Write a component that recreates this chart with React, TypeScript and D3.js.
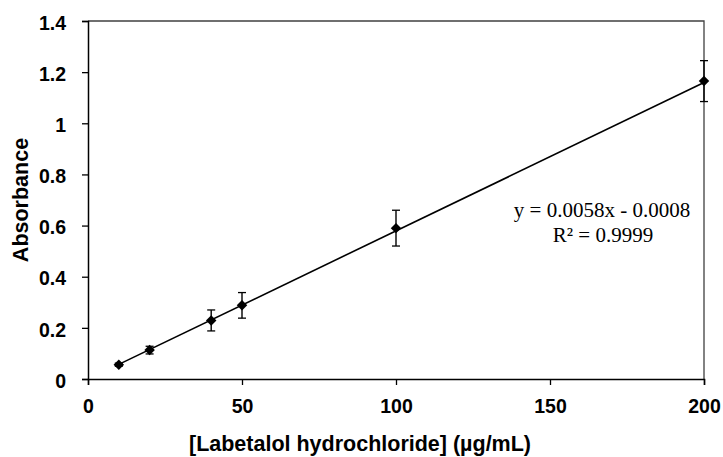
import * as d3 from "d3";
import React, { useRef, useEffect } from "react";

const concentrations = [10, 20, 40, 50, 100, 200];
const absorbance = [0.056, 0.113, 0.229, 0.288, 0.59, 1.165];
const errors = [0.006, 0.015, 0.041, 0.05, 0.07, 0.08];
const xTicks = [0, 50, 100, 150, 200];
const yTicks = [0, 0.2, 0.4, 0.6, 0.8, 1, 1.2, 1.4];
const slope = 0.0058;
const intercept = -0.0008;

const App = () => {
  const ref = useRef<SVGSVGElement>(null);

  useEffect(() => {
    if (!ref.current) return;
    const svg = d3.select(ref.current);
    svg.selectAll("*").remove();

    const margin = { top: 21, right: 19, bottom: 78, left: 88 };
    const W = 723, H = 457;
    const width = W - margin.left - margin.right;
    const height = H - margin.top - margin.bottom;
    const sans = "Arial, 'Liberation Sans', sans-serif";

    const g = svg.append("g").attr("transform", `translate(${margin.left},${margin.top})`);

    const x = d3.scaleLinear().domain([0, 200]).range([0, width]);
    const y = d3.scaleLinear().domain([0, 1.4]).range([height, 0]);

    // frame (top, right)
    g.append("path")
      .attr("d", `M0,0H${width}V${height}`)
      .attr("fill", "none")
      .attr("stroke", "#404040")
      .attr("stroke-width", 1.3);

    // axes
    const xAxis = g.append("g")
      .attr("transform", `translate(0,${height})`)
      .call(d3.axisBottom(x).tickValues(xTicks).tickSize(6).tickPadding(14).tickFormat(d3.format("d")));
    const yAxis = g.append("g")
      .call(d3.axisLeft(y).tickValues(yTicks).tickSize(6).tickPadding(16).tickFormat((d) => `${+d}`));

    [xAxis, yAxis].forEach((a) => {
      a.select(".domain").attr("stroke", "#000").attr("stroke-width", 1.5);
      a.selectAll(".tick line").attr("stroke", "#000").attr("stroke-width", 1.3);
      a.selectAll("text")
        .attr("fill", "#000")
        .style("font-family", sans)
        .style("font-weight", "bold")
        .style("font-size", "19.5px");
    });
    yAxis.selectAll("text").attr("dy", "0.42em");

    // trend line
    const xs = [d3.min(concentrations)!, d3.max(concentrations)!];
    g.append("line")
      .attr("x1", x(xs[0])).attr("y1", y(slope * xs[0] + intercept))
      .attr("x2", x(xs[1])).attr("y2", y(slope * xs[1] + intercept))
      .attr("stroke", "#000")
      .attr("stroke-width", 1.6);

    // error bars
    const pts = concentrations.map((c, i) => ({ c, a: absorbance[i], e: errors[i] }));
    const eb = g.selectAll(".eb").data(pts).enter().append("g").attr("class", "eb");
    eb.append("line")
      .attr("x1", (d) => x(d.c)).attr("x2", (d) => x(d.c))
      .attr("y1", (d) => y(d.a + d.e)).attr("y2", (d) => y(d.a - d.e))
      .attr("stroke", "#000").attr("stroke-width", 1.4);
    [1, -1].forEach((s) => {
      eb.append("line")
        .attr("x1", (d) => x(d.c) - 4).attr("x2", (d) => x(d.c) + 4)
        .attr("y1", (d) => y(d.a + s * d.e)).attr("y2", (d) => y(d.a + s * d.e))
        .attr("stroke", "#000").attr("stroke-width", 1.3);
    });

    // markers (diamonds)
    const diamond = d3.symbol().type(d3.symbolSquare).size(55);
    g.selectAll(".pt").data(pts).enter().append("path")
      .attr("transform", (d) => `translate(${x(d.c)},${y(d.a)}) rotate(45)`)
      .attr("d", diamond)
      .attr("fill", "#000");

    // equation
    const eq = g.append("text")
      .attr("text-anchor", "middle")
      .style("font-family", "'Times New Roman', 'Liberation Serif', serif")
      .style("font-size", "21px")
      .attr("fill", "#000");
    eq.append("tspan").attr("x", 602 - margin.left).attr("y", 217 - margin.top).text("y = 0.0058x - 0.0008");
    eq.append("tspan").attr("x", 603 - margin.left).attr("y", 242 - margin.top).text("R² = 0.9999");

    // axis titles
    svg.append("text")
      .attr("x", 360)
      .attr("y", 451)
      .attr("text-anchor", "middle")
      .style("font-family", sans)
      .style("font-weight", "bold")
      .style("font-size", "21.5px")
      .text("[Labetalol hydrochloride] (µg/mL)");

    svg.append("text")
      .attr("transform", `translate(28,${margin.top + height / 2}) rotate(-90)`)
      .attr("text-anchor", "middle")
      .style("font-family", sans)
      .style("font-weight", "bold")
      .style("font-size", "21.5px")
      .text("Absorbance");
  }, []);

  return <svg ref={ref} width={723} height={457} style={{ position: "absolute", left: 0, top: 0 }} />;
};

export default App;
